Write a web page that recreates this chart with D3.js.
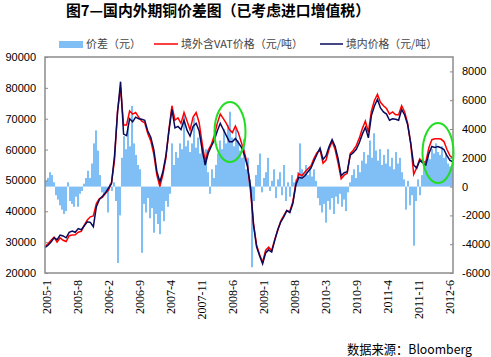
<!DOCTYPE html>
<html><head><meta charset="utf-8">
<script src="https://cdn.jsdelivr.net/npm/d3@7"></script>
<style>body{margin:0;background:#fff}svg{display:block}</style>
</head><body>
<svg id="c" width="491" height="357"></svg>
<script>
// ---- data (thousands of yuan) ----
const xLabels = ["2005-1","2005-8","2006-2","2006-9","2007-4","2007-11","2008-6","2009-1","2009-8","2010-3","2010-9","2011-4","2011-11","2012-6"];
const leftTicks = [20000,30000,40000,50000,60000,70000,80000,90000];
const rightTicks = [-6000,-4000,-2000,0,2000,4000,6000,8000];
// domestic price (yuan/ton, thousands)
const domestic = [28.2,29.0,30.0,31.4,30.8,32.3,32.0,31.4,33.2,33.6,33.2,34.4,34.0,35.3,36.6,36.4,35.0,41.5,43.8,44.9,
46.0,47.5,49.0,58.0,72.0,82.0,65.0,64.5,70.0,69.0,70.5,70.0,69.8,69.5,66.0,64.0,60.0,53.0,49.5,52.8,
58.0,66.0,73.0,67.0,67.5,66.5,69.5,66.3,64.4,67.5,68.5,66.0,60.0,55.0,58.8,61.0,63.0,66.0,68.5,66.5,
64.5,62.5,62.5,63.6,62.2,60.7,58.2,54.5,48.0,35.5,28.5,25.6,23.0,26.5,27.5,26.8,30.5,34.0,36.5,38.2,
40.2,39.6,42.5,48.5,51.0,50.7,51.5,52.8,54.0,56.3,58.5,60.5,56.8,58.0,61.0,63.2,61.0,57.0,51.5,52.5,
52.8,58.2,59.0,60.1,62.2,65.0,67.2,63.8,71.0,74.1,76.3,73.5,72.2,71.5,69.5,70.0,69.8,69.5,73.0,71.2,
68.0,62.2,55.0,54.0,56.5,55.7,55.0,58.7,61.0,60.7,61.0,60.6,60.0,58.0,56.5,56.0];
// overseas price incl. VAT (yuan/ton, thousands)
const overseas = [28.6,29.5,30.6,31.6,30.0,31.4,30.6,30.2,32.1,32.3,32.4,33.2,33.5,35.5,37.2,38.2,38.5,42.5,44.1,44.5,
45.8,46.9,49.2,56.5,72.5,80.0,68.0,68.0,72.5,71.5,72.0,70.5,69.2,68.7,65.2,62.8,58.5,51.8,48.0,51.8,
57.2,66.5,74.2,69.5,70.3,68.5,72.0,69.3,66.4,70.5,72.0,68.8,62.0,56.2,59.8,61.6,64.5,68.5,71.5,70.0,
68.5,66.5,65.5,67.6,65.4,62.2,59.0,55.0,46.5,36.0,29.1,26.0,23.5,27.3,28.4,27.3,30.8,33.8,36.8,38.6,
40.3,39.9,43.1,49.0,52.2,51.5,52.7,53.8,54.7,57.2,59.0,60.0,55.6,56.6,60.2,62.6,60.0,55.5,50.5,51.7,
52.3,58.7,59.8,61.3,63.7,66.8,69.2,65.6,72.5,75.9,77.9,75.3,74.2,73.3,71.5,72.2,71.3,71.3,74.2,72.2,
68.5,61.9,52.0,54.2,57.0,56.0,56.0,60.5,63.2,63.5,63.5,63.4,62.6,60.0,58.0,57.2];
// spread (yuan, thousands)
const spread = [0.4,0.6,1.0,0.8,0.3,-0.6,-0.9,-1.3,-1.6,-1.9,-1.7,0.3,-1.0,-1.2,-1.4,-0.7,-1.4,-0.5,-0.3,0.2,
0.6,1.1,0.6,1.6,3.0,3.9,2.5,0.8,-0.4,-0.6,-0.3,-1.8,0.2,-0.3,0.3,-1.0,-5.3,-2.0,2.0,3.5,
2.6,4.2,2.8,5.6,3.0,2.2,1.5,1.2,-4.6,-1.2,-1.8,-0.8,-2.2,-1.5,-3.2,-1.9,-2.6,-3.3,-1.7,-2.4,
-1.0,-1.4,-0.5,3.0,1.5,2.4,2.0,3.0,2.6,5.0,2.8,3.2,2.4,3.0,4.8,2.7,3.4,2.3,2.9,1.8,
2.6,1.0,-0.5,1.2,0.6,1.5,2.3,3.2,2.6,4.0,3.0,4.3,5.2,3.4,2.8,4.0,3.2,2.5,2.0,3.3,
1.2,2.0,0.5,-5.6,-1.0,0.8,1.5,2.3,-0.4,0.6,1.0,2.0,-0.3,0.4,1.2,-0.8,0.5,1.0,-0.6,1.5,
-1.0,0.3,-0.7,0.8,0.3,0.5,1.0,3.0,1.2,0.9,1.5,0.8,1.3,0.7,1.2,0.4,-0.8,-1.3,-1.8,-1.2,
-2.5,-1.0,-1.6,-0.8,-1.9,-0.7,-1.2,-0.5,-1.4,-0.9,-1.7,-0.4,0.3,0.8,1.2,0.6,1.5,1.0,1.8,2.4,
1.6,2.2,3.2,2.0,3.7,2.5,1.8,2.6,1.5,2.2,1.6,2.6,1.4,2.0,1.2,2.4,1.6,2.0,1.0,0.5,
-1.6,0.4,-1.3,-0.6,-4.1,-1.0,0.5,-0.6,0.8,1.4,1.8,2.2,1.9,2.6,2.3,3.0,2.4,2.2,2.8,2.0,
2.3,1.6,1.4,1.3];
const seriesNames = ["价差（元）","境外含VAT价格（元/吨）","境内价格（元/吨）"];

// ---- layout ----
const L=45,R=453,T=57,B=273;
const svg=d3.select("#c");
const yL=d3.scaleLinear().domain([20000,90000]).range([B,T]);
const yR=d3.scaleLinear().domain([-6000,9000]).range([B,T]);
const xLine=d3.scaleLinear().domain([0,domestic.length-1]).range([L,R]);
const xBar=d3.scaleLinear().domain([0,spread.length-1]).range([L+1,R-1]);
const xLab=d3.scalePoint().domain(xLabels).range([46.5,449.5]);

// title
svg.append("text").attr("x",66).attr("y",16).attr("font-family","'Noto Sans CJK SC',sans-serif")
 .attr("font-size",15).attr("font-weight","bold").attr("textLength",304).attr("lengthAdjust","spacingAndGlyphs")
 .text("图7—国内外期铜价差图（已考虑进口增值税）");

// bars
svg.append("g").selectAll("rect").data(spread).join("rect")
 .attr("x",(d,i)=>xBar(i)-1).attr("width",2.05)
 .attr("y",d=>yR(Math.max(0,d*1000))).attr("height",d=>Math.abs(yR(d*1000)-yR(0)))
 .attr("fill","#80bff5");

// lines
const lineL=d3.line().x((d,i)=>xLine(i)).y(d=>yL(d*1000));
svg.append("path").datum(overseas).attr("d",lineL).attr("fill","none").attr("stroke","#ff0000").attr("stroke-width",1.5);
svg.append("path").datum(domestic).attr("d",lineL).attr("fill","none").attr("stroke","#0a0a5a").attr("stroke-width",1.5);

// frame
svg.append("rect").attr("x",L).attr("y",T).attr("width",R-L).attr("height",B-T)
 .attr("fill","none").attr("stroke","#8c8c8c").attr("stroke-width",1.5);

// axes
const axL=svg.append("g").attr("transform",`translate(${L},0)`)
 .call(d3.axisLeft(yL).tickValues(leftTicks).tickSize(-3).tickPadding(9).tickFormat(d3.format("d")));
const axR=svg.append("g").attr("transform",`translate(${R},0)`)
 .call(d3.axisRight(yR).tickValues(rightTicks).tickSize(-3).tickPadding(9).tickFormat(d=>String(d)));
[axL,axR].forEach(a=>{a.select(".domain").remove();a.selectAll("line").attr("stroke","#8c8c8c");
 a.selectAll("text").attr("font-family","'Liberation Sans',Arial,sans-serif").attr("font-size",11).attr("fill","#000");});

// x labels
const gx=svg.append("g");
gx.selectAll("text").data(xLabels).join("text")
 .attr("transform",d=>`translate(${xLab(d)+4},280) rotate(-90)`)
 .attr("text-anchor","end").attr("font-family","'Liberation Serif',serif").attr("font-size",12)
 .attr("fill","#000").text(d=>d);

// ellipses
svg.append("ellipse").attr("cx",230).attr("cy",132).attr("rx",15.5).attr("ry",30)
 .attr("fill","none").attr("stroke","#22dd22").attr("stroke-width",2);
svg.append("ellipse").attr("cx",438).attr("cy",153).attr("rx",15.5).attr("ry",30)
 .attr("fill","none").attr("stroke","#22dd22").attr("stroke-width",2);

// legend
const lg=svg.append("g").attr("font-family","'Noto Sans CJK SC',sans-serif").attr("font-size",11).attr("fill","#444");
lg.append("rect").attr("x",59).attr("y",41).attr("width",24).attr("height",7).attr("fill","#80bff5");
lg.append("text").attr("x",86).attr("y",48).text(seriesNames[0]);
lg.append("line").attr("x1",154).attr("x2",178).attr("y1",44).attr("y2",44).attr("stroke","#ff0000").attr("stroke-width",1.5);
lg.append("text").attr("x",181).attr("y",48).attr("textLength",122).attr("lengthAdjust","spacingAndGlyphs").text(seriesNames[1]);
lg.append("line").attr("x1",320).attr("x2",343).attr("y1",44).attr("y2",44).attr("stroke","#0a0a5a").attr("stroke-width",1.5);
lg.append("text").attr("x",346).attr("y",48).attr("textLength",91).attr("lengthAdjust","spacingAndGlyphs").text(seriesNames[2]);

// source
svg.append("text").attr("x",472).attr("y",354).attr("text-anchor","end")
 .attr("font-family","'Noto Sans CJK SC',sans-serif").attr("font-size",13)
 .attr("textLength",125).attr("lengthAdjust","spacingAndGlyphs").text("数据来源：Bloomberg");
</script>
</body></html>
